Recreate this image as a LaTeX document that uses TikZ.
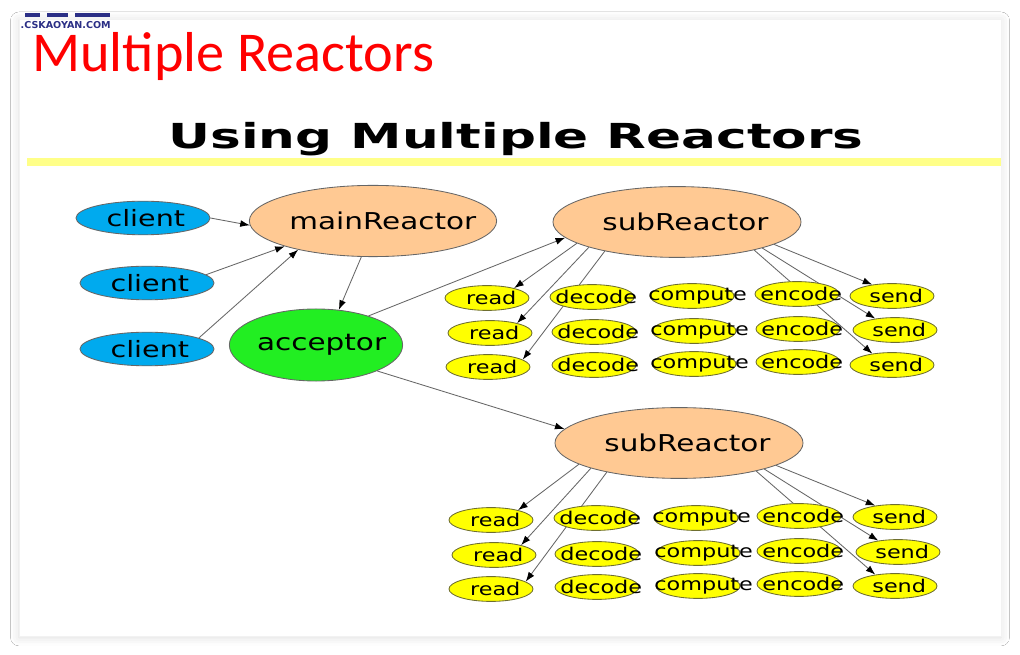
\documentclass[tikz,border=0pt]{standalone}
\usepackage{fontspec}
\setmainfont{DejaVu Sans}
\newfontfamily\labelfont[FakeStretch=1.27]{DejaVu Sans}
\newfontfamily\slidefont[FakeStretch=1.5]{DejaVu Sans}
\newfontfamily\headfont{Carlito}
\usepackage{xcolor}
\usetikzlibrary{arrows.meta, positioning, shapes.geometric, shadows.blur}
\definecolor{clientblue}{HTML}{00AAEE}
\definecolor{reactorpeach}{HTML}{FFC993}
\definecolor{acceptgreen}{HTML}{22EE22}
\definecolor{taskyellow}{HTML}{FFFF00}
\definecolor{taskedge}{HTML}{6E6E30}
\definecolor{baryellow}{HTML}{FFFF88}
\definecolor{logoblue}{HTML}{2B2F86}
\pgfdeclarelayer{card}
\pgfdeclarelayer{edges}
\pgfsetlayers{card,edges,main}

\begin{document}
\begin{tikzpicture}[x=0.025cm, y=-0.025cm,
    nudge/.store in=\textnudge, nudge=0pt,
    oval/.style={ellipse, draw=black!60, line width=0.6pt, inner sep=0pt,
      execute at begin node={\hbox to 0pt\bgroup\hss\hskip\textnudge},
      execute at end node={\hskip-\textnudge\hss\egroup}},
    client/.style={oval, fill=clientblue, minimum width=3.35cm, minimum height=0.84cm,
      nudge=2pt, font=\labelfont\fontsize{16}{18}\selectfont},
    reactor/.style={oval, fill=reactorpeach, minimum width=6.2cm, minimum height=1.77cm,
      nudge=6pt, font=\labelfont\fontsize{16.5}{18}\selectfont},
    task/.style={oval, fill=taskyellow, draw=taskedge, minimum width=2.1cm, minimum height=0.62cm,
      nudge=3pt, font=\labelfont\fontsize{12.5}{14}\selectfont},
    arrow/.style={->, line width=0.6pt, draw=black!60, -{Latex[length=2.4mm, width=1.7mm, color=black]}}
]
\useasboundingbox (0,0) rectangle (1020,655);

% card, shadow and yellow rule
\begin{pgfonlayer}{card}
\fill[white] (0,0) rectangle (1020,655);
\fill[white, draw=black!5, blur shadow={shadow xshift=0pt, shadow yshift=-1pt,
  shadow blur radius=6pt, shadow opacity=14}] (19,19) rectangle (1001,636);
\fill[baryellow] (27,158) rectangle (1001,166);
\end{pgfonlayer}

% logo
\fill[logoblue] (25,13) rectangle (40,17);
\fill[logoblue] (47,13) rectangle (68,17);
\fill[logoblue] (75,13) rectangle (110,17);
\node[anchor=base east, inner sep=0pt, text=logoblue, font=\bfseries\fontsize{6.8}{8}\selectfont]
  (logo) at (111,28.5) {.CSKAOYAN.COM};

% titles
\node[anchor=base west, inner sep=0pt, text=red, font=\headfont\fontsize{40}{44}\selectfont]
  (head) at (32,72) {Multiple Reactors};
\node[anchor=base, inner sep=0pt, font=\slidefont\bfseries\fontsize{24.5}{28}\selectfont]
  (slide) at (516,149) {Using Multiple Reactors};

% clients, main reactor, acceptor
\node[client] (c1) at (143,218) {client};
\node[client] (c2) at (147,283) {client};
\node[client] (c3) at (147,349) {client};
\node[reactor, minimum width=6.18cm, minimum height=1.78cm, nudge=7pt] (main) at (373,221) {mainReactor};
\node[oval, fill=acceptgreen, minimum width=4.33cm, minimum height=1.8cm, nudge=4pt,
  font=\labelfont\fontsize{16.5}{18}\selectfont] (acc) at (316,345) {acceptor};

% first subReactor
\node[reactor] (sub1) at (677,222) {subReactor};
\node[task] (r1) at (487,298) {read};
\node[task] (r2) at (490,333) {read};
\node[task] (r3) at (488,367) {read};
\node[task] (d1) at (592,297) {decode};
\node[task] (d2) at (594,332) {decode};
\node[task] (d3) at (594,365) {decode};
\node[task, nudge=4pt] (p1) at (692,296) {compute};
\node[task, nudge=4pt] (p2) at (694,331) {compute};
\node[task, nudge=4pt] (p3) at (694,364) {compute};
\node[task] (e1) at (797,294) {encode};
\node[task] (e2) at (798,329) {encode};
\node[task] (e3) at (798,362) {encode};
\node[task] (s1) at (892,296) {send};
\node[task] (s2) at (895,330) {send};
\node[task] (s3) at (892,365) {send};

% second subReactor
\node[reactor] (sub2) at (679,443) {subReactor};
\node[task] (r4) at (491,520) {read};
\node[task] (r5) at (494,555) {read};
\node[task] (r6) at (491,589) {read};
\node[task] (d4) at (596,518) {decode};
\node[task] (d5) at (597,554) {decode};
\node[task] (d6) at (597,587) {decode};
\node[task, nudge=4pt] (p4) at (696,518) {compute};
\node[task, nudge=4pt] (p5) at (698,553) {compute};
\node[task, nudge=4pt] (p6) at (698,586) {compute};
\node[task] (e4) at (799,516) {encode};
\node[task] (e5) at (799,551) {encode};
\node[task] (e6) at (799,584) {encode};
\node[task] (s4) at (895,517) {send};
\node[task] (s5) at (898,552) {send};
\node[task] (s6) at (895,586) {send};

% connectors, kept under the ellipses
\begin{pgfonlayer}{edges}
\draw[arrow] (c1.east) -- (main.182);
\draw[arrow] (c2.8) -- (main.196);
\draw[arrow] (c3.12) -- (main.201);
\draw[arrow] (main.252) -- (acc.57);
\draw[arrow] (acc.29) -- (sub1.188);
\draw[arrow] (acc.337) -- (sub2.173);
\draw[arrow] (sub1.192) -- (r1.20);
\draw[arrow] (sub1.196) -- (r2.20);
\draw[arrow] (sub1.202) -- (r3.12);
\draw[arrow] (sub1.347) -- (s1.150);
\draw[arrow] (sub1.343) -- (s2.150);
\draw[arrow] (sub1.340) -- (s3.150);
\draw[arrow] (sub2.192) -- (r4.20);
\draw[arrow] (sub2.196) -- (r5.20);
\draw[arrow] (sub2.202) -- (r6.12);
\draw[arrow] (sub2.347) -- (s4.150);
\draw[arrow] (sub2.343) -- (s5.150);
\draw[arrow] (sub2.340) -- (s6.150);
\end{pgfonlayer}
\end{tikzpicture}
\end{document}
